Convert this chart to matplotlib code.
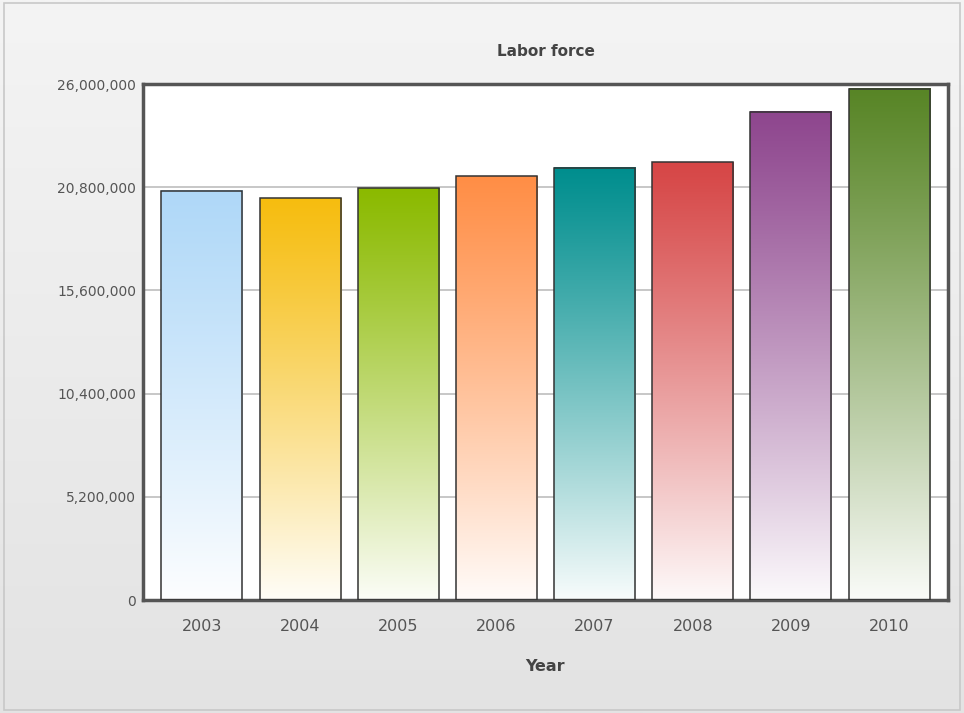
import numpy as np
import matplotlib.pyplot as plt
from matplotlib.colors import to_rgb
from matplotlib.patches import Rectangle

years = ["2003", "2004", "2005", "2006", "2007", "2008", "2009", "2010"]
labor_force = [20620000, 20240000, 20740000, 21360000, 21770000, 22050000, 24600000, 25750000]
bar_colors = ["#AFD8F8", "#F6BD0F", "#8BBA00", "#FF8E46", "#008E8E", "#D64646", "#8E468E", "#588526"]
y_ticks = [0, 5200000, 10400000, 15600000, 20800000, 26000000]

fig = plt.figure(figsize=(9.64, 7.13), dpi=100)

# background gradient for the whole canvas
bg = fig.add_axes([0, 0, 1, 1], zorder=-10)
grad = np.linspace(0, 1, 256).reshape(-1, 1)
top_c = np.array(to_rgb("#f4f4f4"))
bot_c = np.array(to_rgb("#e3e3e3"))
bg_img = top_c[None, None, :] * (1 - grad[:, :, None]) + bot_c[None, None, :] * grad[:, :, None]
bg.imshow(bg_img, aspect="auto", extent=(0, 1, 0, 1))
bg.set_xlim(0, 1)
bg.set_ylim(0, 1)
bg.axis("off")
fig.patches.append(Rectangle((0.004, 0.004), 0.992, 0.992, transform=fig.transFigure,
                             fill=False, edgecolor="#c8c8c8", linewidth=1.2))

ax = fig.add_axes([143 / 964, 113 / 713, 805 / 964, 516 / 713])
ax.set_facecolor("white")
x = np.arange(len(years))
w = 0.826

for i, (v, c) in enumerate(zip(labor_force, bar_colors)):
    rgb = np.array(to_rgb(c))
    t = np.linspace(0, 1, 256).reshape(-1, 1, 1)  # 0 = top, 1 = bottom
    mix = 0.97 * t ** 1.1
    img = rgb[None, None, :] * (1 - mix) + np.ones(3)[None, None, :] * mix
    ax.imshow(img, aspect="auto", extent=(i - w / 2, i + w / 2, 0, v), zorder=2, interpolation="bilinear")
    ax.add_patch(Rectangle((i - w / 2, 0), w, v, fill=False, edgecolor="#333333", linewidth=1.1, zorder=3))

ax.set_xlim(-0.6, len(years) - 0.4)
ax.set_ylim(0, 26000000)
ax.set_aspect("auto")
ax.set_xticks(x)
ax.set_xticklabels(years)
ax.set_yticks(y_ticks)
ax.set_yticklabels(["{:,}".format(t) for t in y_ticks])
ax.yaxis.grid(True, color="#bdbdbd", linewidth=1.2, zorder=1)
ax.set_axisbelow(True)
ax.tick_params(axis="both", length=0, colors="#555555")
ax.tick_params(axis="x", pad=14, labelsize=11.5)
ax.tick_params(axis="y", pad=5, labelsize=10)
for s in ax.spines.values():
    s.set_color("#555555")
    s.set_linewidth(2.5)

ax.set_title("Labor force", fontsize=11, fontweight="bold", color="#444444", pad=20)
ax.set_xlabel("Year", fontsize=11.5, fontweight="bold", color="#444444", labelpad=18)

fig.savefig("out.png", dpi=100)
